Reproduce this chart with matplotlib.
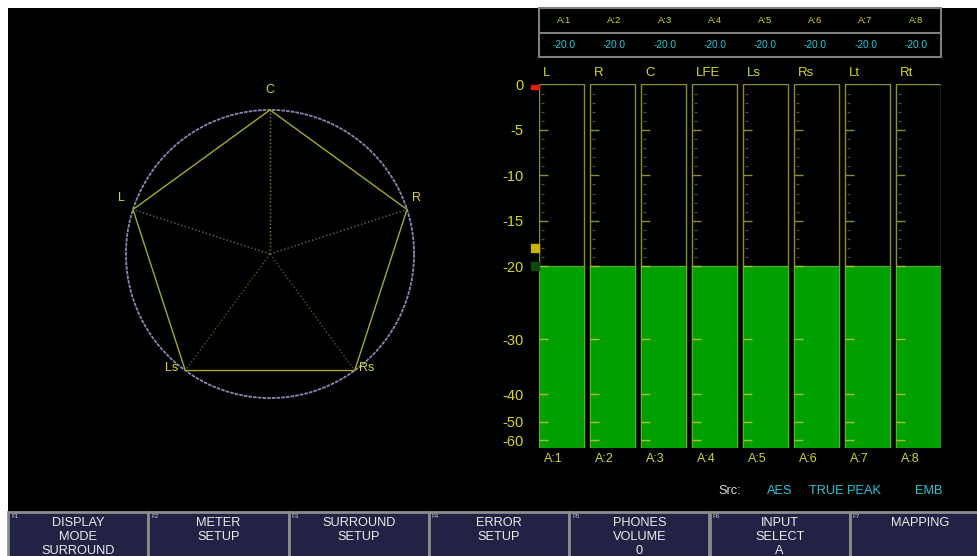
import numpy as np
import matplotlib
matplotlib.use("Agg")
import matplotlib.pyplot as plt
from matplotlib.patches import Rectangle

plt.rcParams['font.family'] = ['Liberation Sans', 'DejaVu Sans']

# ---------------- data ----------------
meter_channels = ["L", "R", "C", "LFE", "Ls", "Rs", "Lt", "Rt"]
meter_inputs = ["A:1", "A:2", "A:3", "A:4", "A:5", "A:6", "A:7", "A:8"]
meter_levels = [-20.0, -20.0, -20.0, -20.0, -20.0, -20.0, -20.0, -20.0]
scale_ticks = [0, -5, -10, -15, -20, -30, -40, -50, -60]
scale_tick_labels = ["0", "-5", "-10", "-15", "-20", "-30", "-40", "-50", "-60"]
major_marks = [-5, -10, -15, -20, -30, -40, -50, -60]
minor_marks = [-1, -2, -3, -4, -6, -7, -8, -9, -11, -12, -13, -14, -16, -17, -18, -19]
meter_floor = -65.0
over_level = 0.0
ref_level_yellow = -18.0
ref_level_green = -20.0
# piecewise meter scale (dB -> relative height)
scale_db = [-65, -60, -50, -40, -30, -20, 0]
scale_h = [0, 8, 26.5, 54, 109, 182, 363.8]

surround_names = ["C", "R", "Rs", "Ls", "L"]
surround_angles = [90, 18, 306, 234, 162]
surround_radius = [1.0, 1.0, 1.0, 1.0, 1.0]

src_items = ["Src:", "AES", "TRUE PEAK", "EMB"]
button_keys = ["F1", "F2", "F3", "F4", "F5", "F6", "F7"]
button_labels = ["DISPLAY\nMODE\nSURROUND", "METER\nSETUP", "SURROUND\nSETUP",
                 "ERROR\nSETUP", "PHONES\nVOLUME\n0", "INPUT\nSELECT\nA", "MAPPING"]

# ---------------- colours ----------------
YEL = '#d6d61e'
FRAME = '#8c8c30'
GREEN = '#00a000'
CYAN = '#22cad8'
GRAY = '#808080'

W, H = 978, 556
fig = plt.figure(figsize=(W / 100, H / 100), dpi=100, facecolor='white')


def fr(x0, y0, x1, y1):
    return [x0 / W, 1 - y1 / H, (x1 - x0) / W, (y1 - y0) / H]


# black screen
fig.patches.append(Rectangle((8 / W, 1 - 512 / H), (W - 8) / W, (512 - 8) / H,
                             transform=fig.transFigure, facecolor='black',
                             edgecolor='none', zorder=-5))

# ---------------- surround pentagon ----------------
ap = fig.add_axes(fr(100, 84, 440, 424))
ap.set_xlim(-1.18, 1.18)
ap.set_ylim(-1.18, 1.18)
ap.axis('off')
th = np.linspace(0, 2 * np.pi, 600)
ap.plot(np.cos(th), np.sin(th), color='#8888b0', lw=1.3, ls=(0, (2, 0.6)))
ang = np.deg2rad(surround_angles)
r = np.array(surround_radius)
px = r * np.cos(ang)
py = r * np.sin(ang)
ap.plot(np.append(px, px[0]), np.append(py, py[0]), color='#a8a82a', lw=1.0)
spoke_cols = {"C": '#8a8a3a', "R": '#6a6a5a', "L": '#6a6a5a', "Ls": '#5a5a1e', "Rs": '#5a5a1e'}
for n, x, y in zip(surround_names, px, py):
    ap.plot([0, x], [0, y], ls=':', lw=1.0, color=spoke_cols[n])
label_off = {"C": (0, 14.5), "R": (6.5, 8), "L": (-8, 8), "Ls": (-10, 2), "Rs": (9, 2)}
for n, x, y in zip(surround_names, px, py):
    ap.annotate(n, xy=(x, y), xytext=label_off[n], textcoords='offset points',
                ha='center', va='center', color=YEL, fontsize=9)

# ---------------- meters ----------------
am = fig.add_axes(fr(539, 84.5, 941, 448.3))
am.set_facecolor('none')
fwd = lambda d: np.interp(d, scale_db, scale_h)
inv = lambda h: np.interp(h, scale_h, scale_db)
am.set_yscale('function', functions=(fwd, inv))
am.set_ylim(meter_floor, 0)
bw = 45 / 51
am.set_xlim(-bw / 2, len(meter_channels) - 1 + bw / 2)
for s in am.spines.values():
    s.set_visible(False)
xs = np.arange(len(meter_channels))
am.bar(xs, 0 - meter_floor, bottom=meter_floor, width=bw, fill=False,
       edgecolor=FRAME, lw=1.0, zorder=1)
lv = np.array(meter_levels)
am.bar(xs, lv - meter_floor, bottom=meter_floor, width=bw, color=GREEN,
       edgecolor='#58b41e', lw=0.8, zorder=2)
for i, lvl in enumerate(meter_levels):
    left = i - bw / 2
    for m in major_marks:
        c = '#a8c032' if m <= lvl else FRAME
        am.hlines(m, left, left + 9 / 51, color=c, lw=1.0, zorder=3)
    for m in minor_marks:
        c = '#3a8a20' if m <= lvl else '#4c4c46'
        am.hlines(m, left + 2 / 51, left + 5 / 51, color=c, lw=0.9, zorder=3)
am.set_xticks([])
am.set_yticks(scale_ticks, labels=scale_tick_labels)
am.tick_params(axis='y', length=0, pad=11, labelcolor=YEL, labelsize=10.5)
am.yaxis.set_minor_locator(matplotlib.ticker.NullLocator())

# reference markers on the scale
mx = -bw / 2 - 4 / 51
rect_marker = [(-1, -0.55), (1, -0.55), (1, 0.55), (-1, 0.55), (-1, -0.55)]
am.plot([mx], [over_level - 0.25], marker=rect_marker, markersize=5.2, color='#e02010',
        ls='none', clip_on=False, zorder=4)
am.plot([mx], [ref_level_yellow], marker='s', markersize=5.8, color='#c8b400',
        ls='none', clip_on=False, zorder=4)
am.plot([mx], [ref_level_green], marker='s', markersize=5.8, color='#0c4a0c',
        ls='none', clip_on=False, zorder=4)

for i, (ch, inp) in enumerate(zip(meter_channels, meter_inputs)):
    am.annotate(ch, xy=(i - bw / 2, 1), xycoords=('data', 'axes fraction'),
                xytext=(3, 8.3), textcoords='offset points', ha='left', va='center',
                color=YEL, fontsize=9.5)
    am.annotate(inp, xy=(i - bw / 2, 0), xycoords=('data', 'axes fraction'),
                xytext=(3.6, -8), textcoords='offset points', ha='left', va='center',
                color=YEL, fontsize=9)

# ---------------- level table ----------------
at = fig.add_axes(fr(539, 8, 941, 57))
at.set_facecolor('none')
at.set_xlim(0, len(meter_inputs))
at.set_ylim(0, 2)
at.set_xticks([])
at.set_yticks([])
for s in at.spines.values():
    s.set_color(GRAY)
    s.set_linewidth(1.5)
at.axhline(0.98, color=GRAY, lw=1.5)
for i, (inp, v) in enumerate(zip(meter_inputs, meter_levels)):
    at.text(i + 0.5, 1.51, inp, ha='center', va='center', color=YEL, fontsize=6.8)
    at.text(i + 0.5, 0.49, f"{v:.1f}", ha='center', va='center', color=CYAN, fontsize=7.3)

# ---------------- source line ----------------
src_x = [730, 780, 845, 929]
src_c = ['#dcdcdc', CYAN, CYAN, CYAN]
for t, x, c in zip(src_items, src_x, src_c):
    fig.text(x / W, 1 - 491 / H, t, ha='center', va='center', color=c, fontsize=9.2)

# ---------------- function keys ----------------
step = 140.3
for i, (k, lab) in enumerate(zip(button_keys, button_labels)):
    x0 = 8 + i * step
    x1 = min(x0 + step, W + 3)
    fig.patches.append(Rectangle((x0 / W, 1 - 560 / H), (x1 - x0) / W, (560 - 512) / H,
                                 transform=fig.transFigure, facecolor='#222244',
                                 edgecolor='#8c8c8c', lw=2, zorder=1))
    fig.text((x0 + 3) / W, 1 - 516 / H, k, ha='left', va='center', color='#c8c8c8',
             fontsize=4.5, zorder=2)
    for j, line in enumerate(lab.split("\n")):
        fig.text((x0 + step / 2) / W, 1 - (522.5 + 14 * j) / H, line, ha='center',
                 va='center', color='#ececec', fontsize=9.2, zorder=2)

fig.savefig("out.png", dpi=100, facecolor='white')
